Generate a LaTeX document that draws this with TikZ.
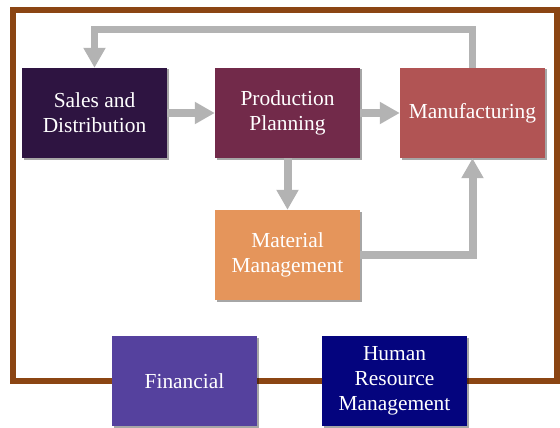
\documentclass[tikz,border=0pt]{standalone}
\usepackage{fontspec}
\setmainfont{Liberation Serif}
\usetikzlibrary{arrows.meta,shadows}

\definecolor{framebrown}{HTML}{8B4513}
\definecolor{flowgray}{HTML}{B3B3B3}
\definecolor{salescol}{HTML}{2E1441}
\definecolor{prodcol}{HTML}{722A4A}
\definecolor{manufcol}{HTML}{B15454}
\definecolor{matcol}{HTML}{E5955B}
\definecolor{fincol}{HTML}{55419E}
\definecolor{hrcol}{HTML}{04047E}

\tikzset{
  module/.style={minimum width=145pt, minimum height=90pt, inner sep=0pt,
    text=white, align=center, font=\fontsize{21.4}{25}\selectfont,
    drop shadow={shadow xshift=1.5pt, shadow yshift=-1.5pt, opacity=0.35, fill=black}},
  flow/.style={draw=flowgray, line width=8pt,
    -{Triangle[width=21pt,length=20pt]}},
}

\begin{document}
\begin{tikzpicture}[x=1pt,y=-1pt]
			%%%%% START %%%%%
			\useasboundingbox (0,0) rectangle (560,428);
			
			\draw[framebrown, line width=6pt] (12.5,10) rectangle (557,381);
			
			\node[module, fill=salescol] (sales) at (94.5,113) {Sales and\\Distribution};
			\node[module, fill=prodcol] (prod) at (287.5,113) {Production\\Planning};
			\node[module, fill=manufcol] (manuf) at (472.5,113) {Manufacturing};
			\node[module, fill=matcol] (material) at (287.5,255) {Material\\Management};
			
			\node[module, fill=fincol] (fin) at (184.5,381) {Financial};
			\node[module, fill=hrcol] (hr) at (394.5,381) {Human\\Resource\\Management};
			
			\draw[flow] (sales.east) -- (prod.west);
			\draw[flow] (prod.east) -- (manuf.west);
			\draw[flow] (prod.south) -- (material.north);
			\draw[flow] (material.east) -| (manuf.south);
			
			\coordinate (looptop) at (0,30);
			\draw[flow, line width=7pt] (manuf.north) |- (looptop -| sales.north) -- (sales.north);
			%%%%% END %%%%%
\end{tikzpicture}
\end{document}
